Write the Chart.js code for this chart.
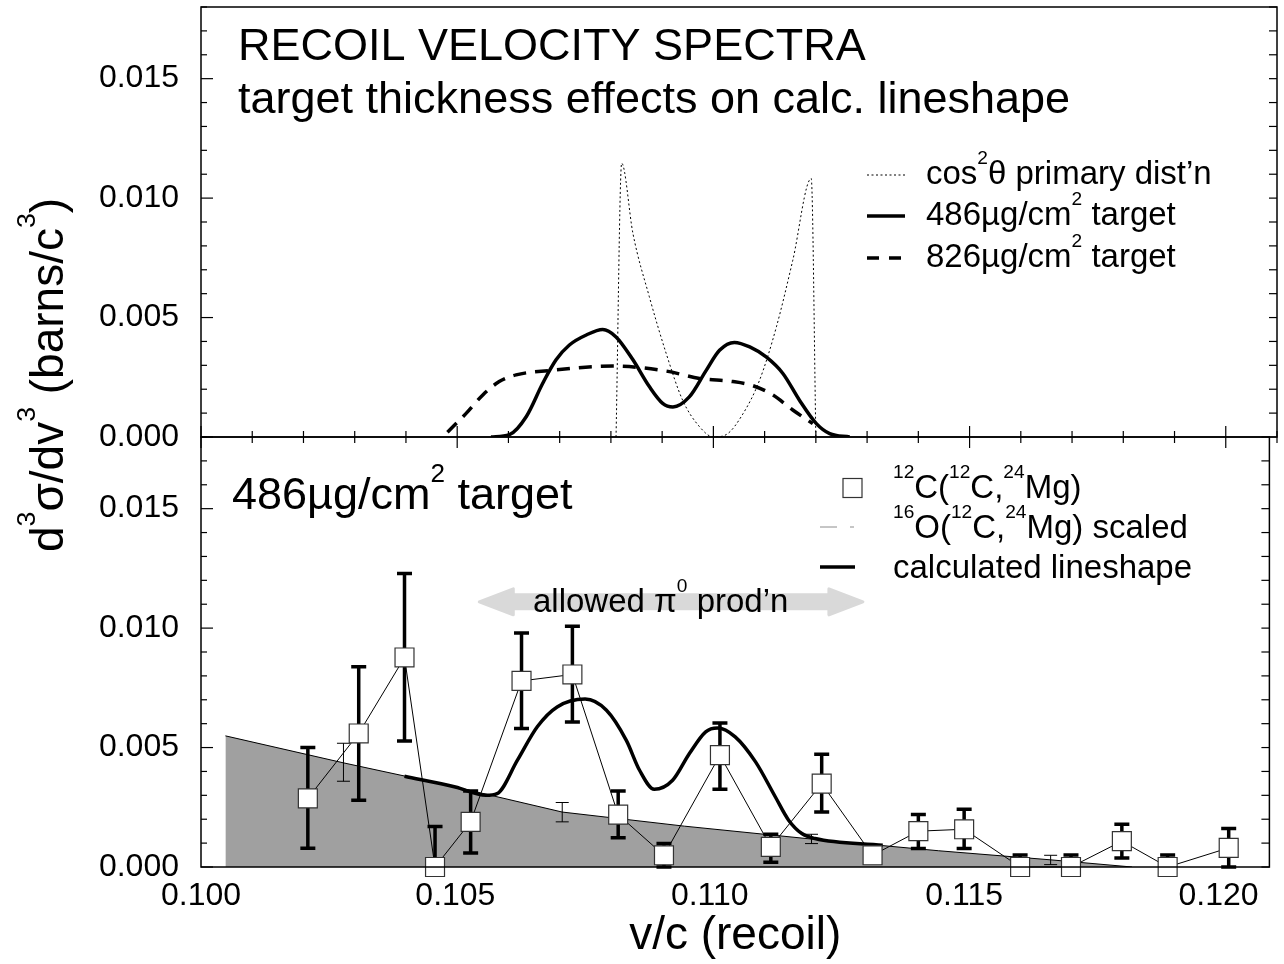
<!DOCTYPE html>
<html>
<head>
<meta charset="utf-8">
<title>Recoil velocity spectra</title>
<script src="https://cdn.jsdelivr.net/npm/chart.js@4.4.0/dist/chart.umd.min.js"></script>
<style>
    html, body { margin: 0; padding: 0; background: #fff; }
    .wrap { position: relative; width: 1284px; height: 964px; }
    .wrap canvas { position: absolute; left: 0; top: 0; }
</style>
</head>
<body>
<div class="wrap">
    <canvas id="bottomChart" width="1284" height="964"></canvas>
    <canvas id="topChart" width="1284" height="964"></canvas>
</div>
<script>
// ---- axes ----
const xTickValues = [0.100, 0.105, 0.110, 0.115, 0.120];
const yTickValues = [0.000, 0.005, 0.010, 0.015];

// ---- top panel: calculated lineshapes ----
const vCos = [0.10810, 0.10821, 0.10843, 0.10875, 0.10908, 0.10940, 0.10973, 0.11000,
    0.11025, 0.11058, 0.11090, 0.11123, 0.11155, 0.11191, 0.11200];
const cosDist = [0, 0.01146, 0.00852, 0.00587, 0.00349, 0.00154, 0.00043, 0,
    0.0001, 0.00098, 0.00237, 0.00461, 0.0074, 0.01082, 0];

const v486 = [0.10566, 0.10602, 0.10635, 0.10667, 0.10693, 0.10719, 0.10752, 0.10784,
    0.10810, 0.10843, 0.10875, 0.10901, 0.10921, 0.10953, 0.10986, 0.11012, 0.11041,
    0.11071, 0.11103, 0.11136, 0.11168, 0.11201, 0.11227, 0.11266];
const target486 = [0, 0.0001, 0.00086, 0.00225, 0.00323, 0.00385, 0.00427, 0.0045,
    0.00419, 0.00323, 0.00211, 0.00141, 0.00126, 0.00168, 0.00279, 0.00363, 0.00396,
    0.00377, 0.00335, 0.00265, 0.00154, 0.00056, 0.00014, 0];

const v826 = [0.10481, 0.10517, 0.10550, 0.10582, 0.10615, 0.10680, 0.10804, 0.10908,
    0.10973, 0.11038, 0.11077, 0.11116, 0.11155, 0.11194];
const target826 = [0.0002, 0.00098, 0.00176, 0.00232, 0.0026, 0.00278, 0.00297, 0.00276,
    0.00245, 0.00232, 0.00215, 0.00176, 0.00113, 0.00056];

// ---- bottom panel: 12C(12C,24Mg) data ----
const vData = [0.1021, 0.1031, 0.1040, 0.1046, 0.1053, 0.1063, 0.1073, 0.1082, 0.1091, 0.1102,
    0.1112, 0.1122, 0.1132, 0.1141, 0.1150, 0.1161, 0.1171, 0.1181, 0.1190, 0.1202];
const yData = [0.00287, 0.00559, 0.00877, 0, 0.00189, 0.00779, 0.00806, 0.00219, 0.00049, 0.00468,
    0.00084, 0.00349, 0.00049, 0.0015, 0.00158, 0, 0, 0.00108, 0, 0.0008];
const errLow = [0.00078, 0.00279, 0.00527, 0, 0.00059, 0.0058, 0.00607, 0.00122, 0, 0.00325,
    0.0002, 0.0023, 0.0003, 0.00077, 0.00077, 0, 0, 0.00038, 0, 0];
const errHigh = [0.0050, 0.00838, 0.01229, 0.0017, 0.00318, 0.0098, 0.01008, 0.00318, 0.00098, 0.00603,
    0.00137, 0.00472, 0.0007, 0.0022, 0.00242, 0.0005, 0.0005, 0.00179, 0.0005, 0.00161];

// 16O(12C,24Mg) scaled (grey area)
const v16O = [0.10048, 0.1028, 0.1050, 0.1071, 0.1095, 0.1120, 0.1145, 0.1167, 0.1183];
const o16 = [0.00549, 0.00436, 0.00335, 0.0023, 0.00171, 0.00117, 0.00068, 0.0003, 0];
const v16Err = [0.1028, 0.1071, 0.1120, 0.1167];
const o16Low = [0.00359, 0.00189, 0.00098, 0.0001];
const o16High = [0.00518, 0.0027, 0.00137, 0.00049];

// calculated lineshape
const vCalc = [0.1040, 0.1050, 0.1056, 0.10582, 0.10622, 0.10661, 0.1070, 0.10755, 0.10797,
    0.10836, 0.10862, 0.10891, 0.10927, 0.1096, 0.10992, 0.11015, 0.1105, 0.1109, 0.11129,
    0.11155, 0.11181, 0.11207, 0.1134];
const calcShape = [0.0038, 0.00335, 0.0030, 0.00307, 0.00447, 0.00587, 0.0067, 0.00703, 0.00656,
    0.0053, 0.00405, 0.00325, 0.00363, 0.00475, 0.00566, 0.00582, 0.00545, 0.0044, 0.00293,
    0.00196, 0.0014, 0.00119, 0.00091];

// allowed pi0 production window
const allowedRange = [0.10547, 0.11301];
const allowedY = 0.0111;

const FONT = '"Liberation Sans", Arial, Helvetica, sans-serif';
Chart.defaults.font.family = FONT;
Chart.defaults.color = '#000';

function pts(xs, ys) {
    return xs.map((x, i) => ({ x: x, y: ys[i] }));
}

// text with superscripts: parts are strings or {sup: '..'}
function richText(ctx, parts, x, y, size) {
    ctx.save();
    ctx.translate(x, y);
    ctx.fillStyle = '#000';
    ctx.textBaseline = 'alphabetic';
    ctx.textAlign = 'left';
    let cx = 0;
    parts.forEach(p => {
        const sup = typeof p !== 'string';
        const t = sup ? p.sup : p;
        ctx.font = (sup ? size * 0.58 : size) + 'px ' + FONT;
        ctx.fillText(t, cx, sup ? -size * 0.6 : 0);
        cx += ctx.measureText(t).width;
    });
    ctx.restore();
}

function line(ctx, x1, y1, x2, y2) {
    ctx.beginPath();
    ctx.moveTo(x1, y1);
    ctx.lineTo(x2, y2);
    ctx.stroke();
}

// Frame and inward ticks
const framePlugin = {
    id: 'frame',
    afterDatasetsDraw(chart, args, opts) {
        const { ctx, chartArea: a, scales: { x, y } } = chart;
        ctx.save();
        ctx.strokeStyle = '#000';
        ctx.lineWidth = 1.5;
        ctx.strokeRect(a.left, a.top, a.right - a.left, a.bottom - a.top);
        ctx.lineWidth = 1.2;
        for (let k = 0; k <= 18; k++) {
            const py = y.getPixelForValue(k * 0.001);
            const major = k % 5 === 0;
            line(ctx, a.left, py, a.left + (major ? 12 : 6), py);
            line(ctx, a.right - 8, py, a.right, py);
        }
        if (opts.xTicks) {
            for (let k = 0; k <= 21; k++) {
                const px = x.getPixelForValue(0.1 + k * 0.001);
                const h = k % 5 === 0 ? 11 : 6;
                line(ctx, px, a.bottom - h, px, a.bottom + h);
            }
        }
        ctx.restore();
    }
};

function drawErrorBars(chart, xs, lo, hi, width, cap) {
    const { ctx, scales: { x, y } } = chart;
    ctx.save();
    ctx.strokeStyle = '#000';
    ctx.lineWidth = width;
    xs.forEach((v, i) => {
        const px = x.getPixelForValue(v);
        const p1 = y.getPixelForValue(lo[i]);
        const p2 = y.getPixelForValue(hi[i]);
        ctx.beginPath();
        ctx.moveTo(px, p1); ctx.lineTo(px, p2);
        ctx.moveTo(px - cap, p1); ctx.lineTo(px + cap, p1);
        ctx.moveTo(px - cap, p2); ctx.lineTo(px + cap, p2);
        ctx.stroke();
    });
    ctx.restore();
}

const errorBarPlugin = {
    id: 'errorBars',
    beforeDatasetDraw(chart, args) {
        if (chart.data.datasets[args.index].label === '12C') {
            drawErrorBars(chart, vData, errLow, errHigh, 3.5, 7.5);
        }
    },
    afterDatasetDraw(chart, args) {
        if (chart.data.datasets[args.index].label === '16O') {
            drawErrorBars(chart, v16Err, o16Low, o16High, 1, 6.5);
        }
    }
};

// Titles, legends and labels of the top panel
const topTextPlugin = {
    id: 'topText',
    afterDraw(chart) {
        const ctx = chart.ctx;
        const ds = chart.data.datasets;
        richText(ctx, ['RECOIL VELOCITY SPECTRA'], 238, 60, 45);
        richText(ctx, ['target thickness effects on calc. lineshape'], 238, 113, 45);

        const rows = [175, 216, 258];
        const texts = [
            ['cos', { sup: '2' }, 'θ primary dist’n'],
            ['486µg/cm', { sup: '2' }, ' target'],
            ['826µg/cm', { sup: '2' }, ' target']
        ];
        rows.forEach((ry, i) => {
            ctx.save();
            ctx.strokeStyle = '#000';
            ctx.lineWidth = ds[i].borderWidth;
            ctx.setLineDash(i === 2 ? [12, 10] : (ds[i].borderDash || []));
            line(ctx, 867, ry, 905, ry);
            ctx.restore();
            richText(ctx, texts[i], 926, ry + 9, 33);
        });

        // y axis title, shared by both panels
        ctx.save();
        ctx.translate(63, 552);
        ctx.rotate(-Math.PI / 2);
        richText(ctx, ['d', { sup: '3' }, 'σ/dv', { sup: '3' }, ' (barns/c', { sup: '3' }, ')'], 0, 0, 46);
        ctx.restore();
    }
};

// Labels, arrow and legend of the bottom panel
const bottomTextPlugin = {
    id: 'bottomText',
    beforeDatasetsDraw(chart) {
        const { ctx, scales: { x, y } } = chart;
        const x1 = x.getPixelForValue(allowedRange[0]);
        const x2 = x.getPixelForValue(allowedRange[1]);
        const ay = y.getPixelForValue(allowedY);
        const head = 34, hh = 13, bh = 7;
        ctx.save();
        ctx.fillStyle = '#d9d9d9';
        ctx.strokeStyle = '#d9d9d9';
        ctx.lineWidth = 3;
        ctx.lineJoin = 'round';
        ctx.beginPath();
        ctx.moveTo(x1, ay);
        ctx.lineTo(x1 + head, ay - hh);
        ctx.lineTo(x1 + head, ay - bh);
        ctx.lineTo(x2 - head, ay - bh);
        ctx.lineTo(x2 - head, ay - hh);
        ctx.lineTo(x2, ay);
        ctx.lineTo(x2 - head, ay + hh);
        ctx.lineTo(x2 - head, ay + bh);
        ctx.lineTo(x1 + head, ay + bh);
        ctx.lineTo(x1 + head, ay + hh);
        ctx.closePath();
        ctx.fill();
        ctx.stroke();
        ctx.restore();
        richText(ctx, ['allowed π', { sup: '0' }, ' prod’n'], 533, 612, 33);
    },
    afterDraw(chart) {
        const ctx = chart.ctx;
        richText(ctx, ['486µg/cm', { sup: '2' }, ' target'], 232, 509, 45);

        ctx.save();
        ctx.fillStyle = '#fff';
        ctx.strokeStyle = '#333';
        ctx.lineWidth = 1.2;
        ctx.fillRect(843, 478.5, 19, 19);
        ctx.strokeRect(843, 478.5, 19, 19);
        ctx.strokeStyle = '#8c8c8c';
        ctx.lineWidth = 1;
        line(ctx, 820, 527, 837, 527);
        line(ctx, 850, 527, 854, 527);
        ctx.strokeStyle = '#000';
        ctx.lineWidth = 3.5;
        line(ctx, 820, 567, 855, 567);
        ctx.restore();

        richText(ctx, [{ sup: '12' }, 'C(', { sup: '12' }, 'C,', { sup: '24' }, 'Mg)'], 893, 498, 33);
        richText(ctx, [{ sup: '16' }, 'O(', { sup: '12' }, 'C,', { sup: '24' }, 'Mg) scaled'], 893, 538, 33);
        richText(ctx, ['calculated lineshape'], 893, 578, 33);
    }
};

function yScale() {
    return {
        type: 'linear',
        min: 0,
        max: 0.018,
        grid: { display: false, drawTicks: false },
        border: { display: false },
        ticks: {
            padding: 22,
            font: { size: 32 },
            callback: v => v.toFixed(3)
        },
        afterBuildTicks: s => { s.ticks = yTickValues.map(v => ({ value: v })); },
        afterFit: s => {
            s.width = 201;
            s.paddingTop = 0;
            s.paddingBottom = 0;
        }
    };
}

function xScale(show) {
    return {
        type: 'linear',
        min: 0.100,
        max: 0.121,
        display: show,
        grid: { display: false, drawTicks: false },
        border: { display: false },
        ticks: {
            padding: 10,
            maxRotation: 0,
            autoSkip: false,
            font: { size: 32 },
            callback: v => v.toFixed(3)
        },
        title: { display: true, text: 'v/c (recoil)', font: { size: 46 }, padding: 0 },
        afterBuildTicks: s => { s.ticks = xTickValues.map(v => ({ value: v })); },
        afterFit: s => {
            s.height = show ? 97 : 0;
            s.paddingLeft = 0;
            s.paddingRight = 0;
        }
    };
}

const baseOptions = {
    responsive: false,
    maintainAspectRatio: false,
    animation: false,
    events: [],
    plugins: {
        legend: { display: false },
        tooltip: { enabled: false }
    }
};

// Top panel
new Chart(document.getElementById('topChart'), {
    type: 'scatter',
    data: {
        datasets: [{
            label: 'cos2',
            data: pts(vCos, cosDist),
            showLine: true,
            borderColor: '#000',
            borderWidth: 1,
            borderDash: [2, 2.5],
            pointRadius: 0,
            cubicInterpolationMode: 'monotone'
        }, {
            label: '486',
            data: pts(v486, target486),
            showLine: true,
            borderColor: '#000',
            borderWidth: 3.5,
            pointRadius: 0,
            cubicInterpolationMode: 'monotone'
        }, {
            label: '826',
            data: pts(v826, target826),
            showLine: true,
            borderColor: '#000',
            borderWidth: 3.5,
            borderDash: [13, 9],
            pointRadius: 0,
            cubicInterpolationMode: 'monotone'
        }]
    },
    options: {
        ...baseOptions,
        layout: { padding: { left: 0, right: 7, top: 7, bottom: 527 } },
        scales: { x: xScale(false), y: yScale() },
        plugins: { ...baseOptions.plugins, frame: { xTicks: true } }
    },
    plugins: [framePlugin, topTextPlugin]
});

// Bottom panel
new Chart(document.getElementById('bottomChart'), {
    type: 'scatter',
    data: {
        datasets: [{
            label: '12C',
            data: pts(vData, yData),
            showLine: true,
            borderColor: '#000',
            borderWidth: 1,
            pointStyle: 'rect',
            pointRadius: 13.4,
            pointBackgroundColor: '#fff',
            pointBorderColor: '#333',
            pointBorderWidth: 1.2,
            clip: false,
            order: 0
        }, {
            label: 'calc',
            data: pts(vCalc, calcShape),
            showLine: true,
            borderColor: '#000',
            borderWidth: 3.5,
            pointRadius: 0,
            cubicInterpolationMode: 'monotone',
            order: 1
        }, {
            label: '16O',
            data: pts(v16O, o16),
            showLine: true,
            borderColor: '#000',
            borderWidth: 1,
            backgroundColor: '#a0a0a0',
            fill: 'origin',
            pointRadius: 0,
            order: 2
        }]
    },
    options: {
        ...baseOptions,
        layout: { padding: { left: 0, right: 7, top: 437, bottom: 0 } },
        scales: { x: xScale(true), y: yScale() },
        plugins: { ...baseOptions.plugins, frame: { xTicks: false } }
    },
    plugins: [framePlugin, errorBarPlugin, bottomTextPlugin]
});
</script>
</body>
</html>
